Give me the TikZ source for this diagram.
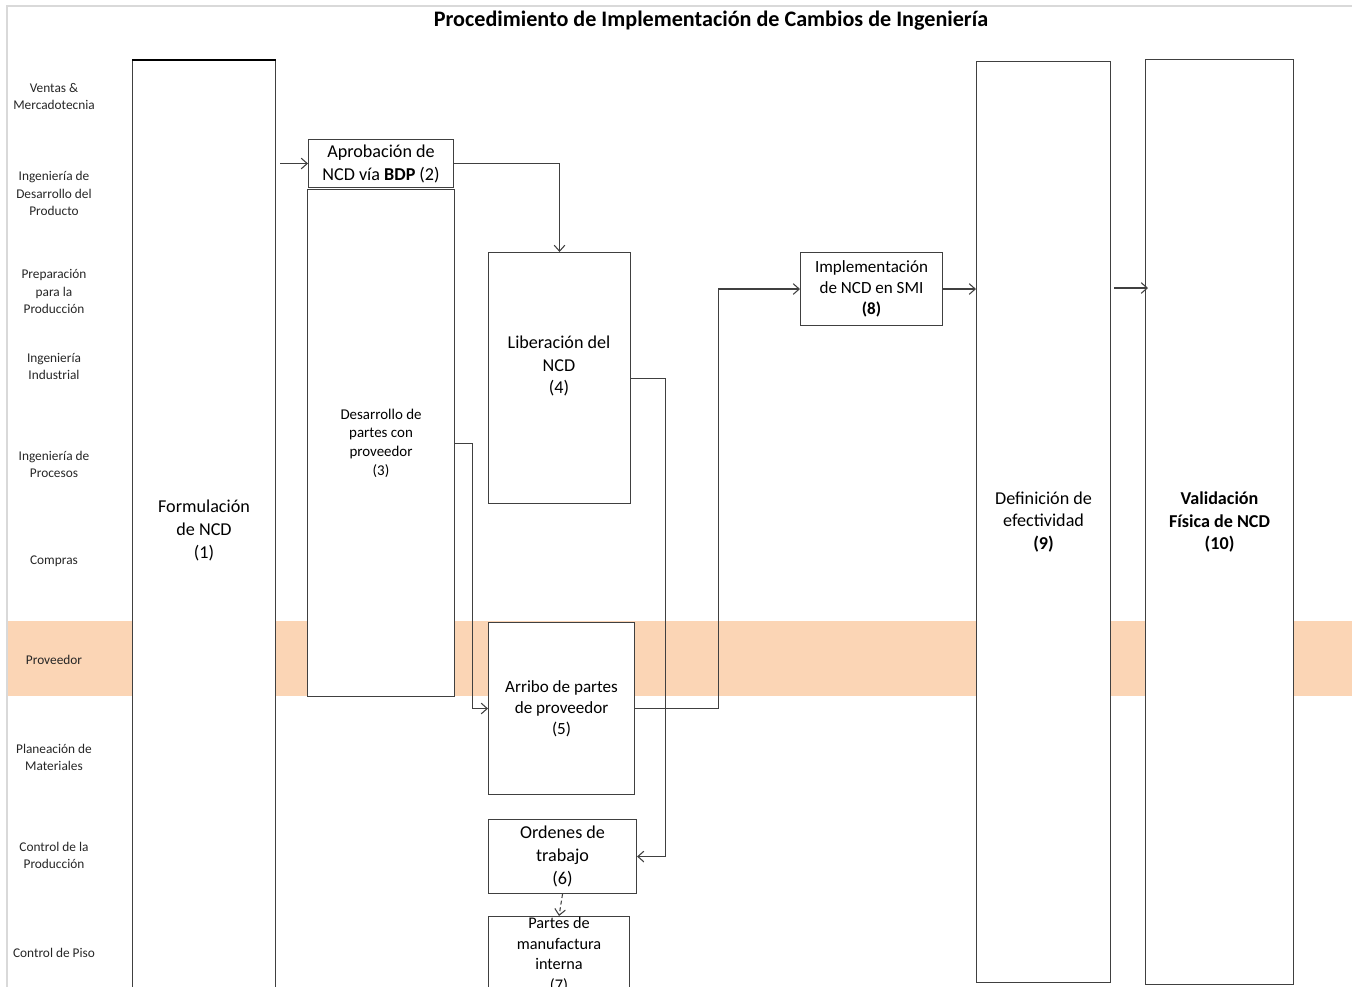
\documentclass[tikz,border=0pt]{standalone}
\usepackage{fontspec}
\setmainfont{Carlito}
\usetikzlibrary{arrows.meta,calc}
\definecolor{peach}{RGB}{251,213,181}
\definecolor{frame}{RGB}{217,217,217}
\begin{document}
\begin{tikzpicture}[x=0.75pt,y=-0.75pt,
  box/.style={draw=black!75, fill=white, line width=0.8pt, inner sep=0pt,
    align=center, anchor=north west},
  lane/.style={align=center, font=\fontsize{10}{13.1}\selectfont, text=black!85},
  big/.style={font=\fontsize{13.6}{17.2}\selectfont},
  bigbold/.style={font=\bfseries\fontsize{13.6}{17.2}\selectfont},
  arr/.style={draw=black!75, line width=0.8pt, -{Straight Barb[length=4.5pt,width=8pt]}},
]
\useasboundingbox (0,0) rectangle (1352,987);
\clip (0,0) rectangle (1352,987);

% sheet frame and supplier band
\draw[frame, line width=1.6pt] (7,990) -- (7,6) -- (1360,6);
\fill[peach] (8,621) rectangle (1352,696);

% title
\node[font=\bfseries\fontsize{16.6}{19}\selectfont] (title) at (711,21)
  {Procedimiento de Implementación de Cambios de Ingeniería};

% swimlane labels
\node[lane] (l1) at (54,96.5) {Ventas \&\\Mercadotecnia};
\node[lane] (l2) at (54,193.5) {Ingeniería de\\Desarrollo del\\Producto};
\node[lane] (l3) at (54,291.5) {Preparación\\para la\\Producción};
\node[lane] (l4) at (54,366.5) {Ingeniería\\Industrial};
\node[lane] (l5) at (54,464.5) {Ingeniería de\\Procesos};
\node[lane] (l6) at (54,561.5) {Compras};
\node[lane] (l7) at (54,659.5) {Proveedor};
\node[lane] (l8) at (54,757.5) {Planeación de\\Materiales};
\node[lane] (l9) at (54,855.5) {Control de la\\Producción};
\node[lane] (l10) at (54,952.5) {Control de Piso};

% process steps
\node[box, big, minimum width={143*0.75pt}, minimum height={940*0.75pt}] (b1) at (132,60)
  {Formulación\\de NCD\\(1)};
\draw[black, line width=1.5pt] (b1.north west) -- (b1.north east);
\node[box, big, minimum width={145*0.75pt}, minimum height={48*0.75pt}] (b2) at (308,139)
  {Aprobación de\\NCD vía \textbf{BDP} (2)};
\node[box, font=\fontsize{11.2}{14}\selectfont, minimum width={147*0.75pt}, minimum height={507*0.75pt}] (b3) at (307,189)
  {Desarrollo de\\partes con\\proveedor\\(3)};
\node[box, minimum width={142*0.75pt}, minimum height={251*0.75pt}] (b4) at (488,252) {};
\node[big, align=center] (b4t) at (559,366) {Liberación del\\NCD\\(4)};
\node[box, font=\fontsize{12.8}{15.6}\selectfont, minimum width={146*0.75pt}, minimum height={172*0.75pt}] (b5) at (488,622)
  {Arribo de partes\\de proveedor\\(5)};
\node[box, big, minimum width={148*0.75pt}, minimum height={74*0.75pt}] (b6) at (488,819)
  {Ordenes de\\trabajo\\(6)};
\node[box, font=\fontsize{12.2}{15.4}\selectfont, minimum width={141*0.75pt}, minimum height={77*0.75pt}] (b7) at (488,916)
  {Partes de\\manufactura\\interna\\(7)};
\node[box, font=\fontsize{12.8}{15.6}\selectfont, minimum width={142*0.75pt}, minimum height={73*0.75pt}] (b8) at (800,252)
  {Implementación\\de NCD en SMI\\\textbf{(8)}};
\node[box, big, minimum width={134*0.75pt}, minimum height={921*0.75pt}] (b9) at (976,61)
  {Definición de\\efectividad\\\textbf{(9)}};
\node[box, bigbold, minimum width={148*0.75pt}, minimum height={925*0.75pt}] (b10) at (1145,59)
  {Validación\\Física de NCD\\(10)};

% connectors
\draw[arr] ($(b1.east |- b2.west)+(4,0)$) -- (b2.west);
\draw[arr] (b2.east) -| (b4.north);
\draw[arr] (b3.east) -- ++(17,0) |- (b5.west);
\draw[arr] (b4.east) -- ++(34,0) |- (b6.east);
\draw[arr] (b5.east) -- ++(83,0) |- (b8.west);
\draw[arr] (b8.east) -- (b8.east -| b9.west);
\draw[arr] ($(b9.east |- b8.east)+(3,-1)$) -- ($(b10.west |- b8.east)+(3,-1)$);
\draw[arr, dash pattern=on 3pt off 2pt] (b6.south) -- (b7.north);
\end{tikzpicture}
\end{document}
